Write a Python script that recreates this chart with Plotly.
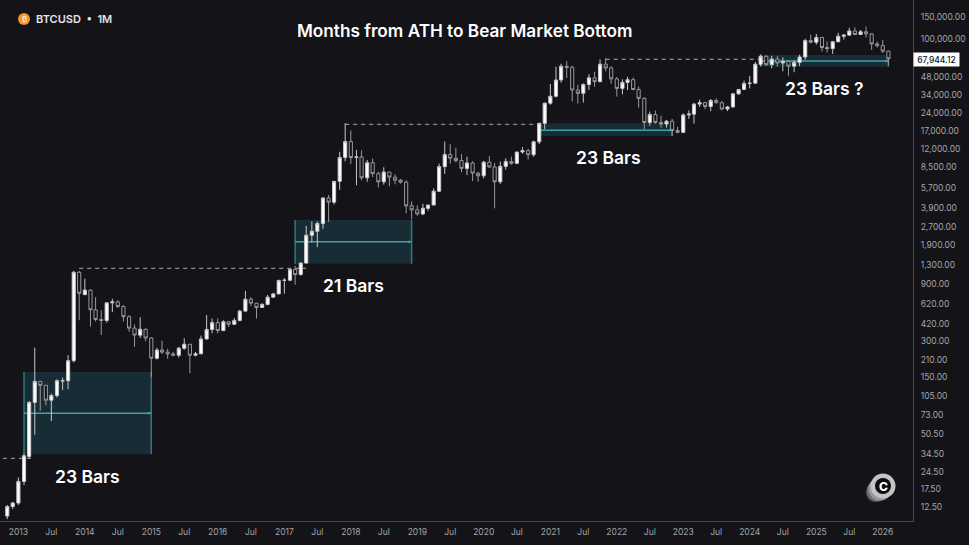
import math

import pandas as pd
import plotly.graph_objects as go

# monthly candles, Nov 2012 to Feb 2026
opens = [10.5, 12.6, 13.5, 20.4, 33, 93, 139, 129, 97, 106, 140, 141, 207, 1130,
         735, 803, 550, 457, 448, 628, 640, 586, 482, 387, 338, 378,
         320, 217, 254, 244, 236, 230, 263, 284, 230, 236, 314, 377,
         430, 369, 437, 416, 448, 536, 673, 624, 575, 609, 701, 746,
         966, 970, 1190, 1080, 1348, 2300, 2480, 2875, 4703, 4339, 6468, 10233,
         13860, 10221, 10326, 6923, 9240, 7494, 6404, 7730, 7011, 6626, 6371, 4041,
         3742, 3457, 3854, 4105, 5350, 8574, 10817, 10085, 9630, 8293, 9199, 7569,
         7193, 9350, 8523, 6410, 8620, 9450, 9137, 11351, 11655, 10779, 13804, 19700,
         28990, 33100, 45240, 58800, 57720, 37300, 35040, 41460, 47100, 43790, 61300, 56950,
         46200, 38480, 43190, 45510, 37640, 31790, 19980, 23300, 20050, 19430, 20490, 17170,
         16540, 23130, 23490, 28470, 29250, 27210, 30470, 29230, 25930, 26970, 34650, 37720,
         42260, 42580, 61180, 71280, 60670, 67530, 62680, 64620, 58970, 63330, 70290, 96400,
         93400, 102400, 84350, 82550, 94200, 104600, 107150, 115760, 108250, 114050, 109600, 90360,
         87500, 78700]
highs = [13, 13.8, 22, 35, 95, 266, 140, 130, 110, 145, 150, 230, 1160, 1163,
         1000, 810, 700, 545, 630, 680, 660, 600, 495, 415, 476, 385,
         325, 265, 304, 260, 245, 270, 318, 285, 245, 335, 497, 465,
         465, 450, 440, 470, 550, 790, 700, 620, 625, 730, 760, 980,
         1010, 1210, 1280, 1360, 2750, 3000, 3000, 4750, 4980, 6500, 11400, 19700,
         17200, 11800, 11700, 9760, 10000, 7780, 8480, 7740, 7400, 6750, 6600, 4400,
         4080, 4200, 4120, 5640, 9100, 13880, 13200, 12330, 10900, 10370, 9500, 7750,
         9580, 10500, 9190, 9460, 10070, 10380, 11430, 12470, 12080, 14100, 19900, 29300,
         41950, 58350, 61780, 64900, 59500, 41300, 42400, 50500, 52900, 67000, 69000, 59050,
         47900, 45800, 48200, 47400, 40000, 32400, 24700, 25200, 22800, 21000, 21450, 18400,
         23800, 25250, 29200, 31000, 29800, 31400, 31800, 30200, 27500, 35000, 38000, 44700,
         49000, 64000, 73800, 72700, 71950, 72000, 70000, 65600, 66500, 73600, 99800, 108300,
         109300, 102700, 95000, 95700, 111900, 108900, 123200, 124500, 117900, 126200, 110600, 94600,
         97900, 79300]
lows = [9.9, 12, 13, 19, 32, 50, 79, 88, 65, 102, 118, 120, 200, 450,
        735, 397, 440, 339, 430, 525, 570, 440, 360, 270, 320, 300,
        152, 212, 235, 215, 225, 220, 255, 163, 225, 236, 310, 350,
        350, 365, 395, 412, 440, 530, 590, 465, 570, 600, 695, 740,
        750, 950, 890, 1060, 1340, 2000, 1830, 2600, 2970, 4150, 5500, 9500,
        9000, 6000, 6600, 6425, 7000, 5750, 6070, 5880, 6100, 6200, 3500, 3120,
        3350, 3380, 3680, 4100, 5300, 7440, 9100, 9320, 7700, 7300, 6500, 6430,
        6850, 8400, 3850, 6150, 8100, 8900, 8970, 11000, 9820, 10370, 13200, 17600,
        28100, 32300, 43000, 47000, 30000, 28800, 29300, 37400, 39600, 43300, 53500, 42000,
        32900, 34300, 37200, 37200, 26600, 17600, 18800, 19500, 18100, 18150, 15480, 16300,
        16500, 21400, 19550, 26900, 25800, 24800, 28860, 25300, 24900, 26550, 34100, 37600,
        38500, 41900, 59000, 59200, 56500, 58400, 53500, 49000, 52500, 58900, 66800, 91200,
        89100, 78200, 76600, 74500, 93300, 98200, 105100, 107300, 107200, 102000, 80500, 84400,
        75700, 60000]
closes = [12.6, 13.5, 20.4, 33.4, 93, 139, 129, 97, 106, 141, 141, 207, 1130, 754,
          803, 550, 457, 448, 628, 640, 586, 482, 387, 338, 378, 320,
          217, 254, 244, 236, 230, 263, 284, 230, 236, 314, 377, 430,
          369, 437, 416, 448, 536, 673, 624, 575, 609, 701, 746, 966,
          970, 1190, 1080, 1348, 2300, 2480, 2875, 4703, 4339, 6468, 10233, 13860,
          10221, 10326, 6923, 9240, 7494, 6404, 7730, 7011, 6626, 6371, 4041, 3742,
          3457, 3854, 4105, 5350, 8574, 10817, 10085, 9630, 8293, 9199, 7569, 7193,
          9350, 8523, 6410, 8620, 9450, 9137, 11351, 11655, 10779, 13804, 19700, 28990,
          33100, 45240, 58800, 57720, 37300, 35040, 41460, 47100, 43790, 61300, 56950, 46200,
          38480, 43190, 45510, 37640, 31790, 19980, 23300, 20050, 19430, 20490, 17170, 16540,
          23130, 23490, 28470, 29250, 27210, 30470, 29230, 25930, 26970, 34650, 37720, 42260,
          42580, 61180, 71280, 60670, 67530, 62680, 64620, 58970, 63330, 70290, 96400, 93400,
          102400, 84350, 82550, 94200, 104600, 107150, 115760, 108250, 114050, 109600, 90360, 87500,
          78700, 67944.12]

y_ticks = [150000, 100000, 48000, 34000, 24000, 17000, 12000, 8500, 5700, 3900, 2700, 1900, 1300,
           900, 620, 420, 300, 210, 150, 105, 73, 50.5, 34.5, 24.5, 17.5, 12.5]
x_tick_vals = ["2013-01-01", "2013-07-01", "2014-01-01", "2014-07-01", "2015-01-01", "2015-07-01",
               "2016-01-01", "2016-07-01", "2017-01-01", "2017-07-01", "2018-01-01", "2018-07-01",
               "2019-01-01", "2019-07-01", "2020-01-01", "2020-07-01", "2021-01-01", "2021-07-01",
               "2022-01-01", "2022-07-01", "2023-01-01", "2023-07-01", "2024-01-01", "2024-07-01",
               "2025-01-01", "2025-07-01", "2026-01-01"]
x_tick_text = ["2013", "Jul", "2014", "Jul", "2015", "Jul", "2016", "Jul", "2017", "Jul", "2018", "Jul",
               "2019", "Jul", "2020", "Jul", "2021", "Jul", "2022", "Jul", "2023", "Jul", "2024", "Jul",
               "2025", "Jul", "2026"]

# ATH to bottom boxes: start, end, top, bottom, middle
box_starts = ["2013-02-01", "2017-03-01", "2020-11-01", "2024-03-01"]
box_ends = ["2015-01-01", "2018-12-01", "2022-11-01", "2026-02-01"]
box_tops = [167, 3080, 19700, 73100]
box_bottoms = [34.4, 1330, 15450, 58300]
box_mids = [75.5, 2030, 17220, 65100]

# dashed ATH lines
ath_starts = ["2012-10-08", "2013-12-01", "2017-12-01", "2021-11-01"]
ath_ends = ["2013-04-01", "2017-05-01", "2020-10-20", "2024-03-01"]
ath_prices = [31.8, 1219, 19320, 67300]

BG = "#131318"
TEAL = "#3fa3a7"
FONT = "Inter"
PLOT_W = 913
PLOT_H = 521


def px_x(x):
    return x / PLOT_W


def px_y(y):
    return 1 - y / PLOT_H


def add_text(fig, x, y, text, size, color="white", weight=600, xanchor="center", **kwargs):
    fig.add_annotation(
        xref="paper", yref="paper", x=px_x(x), y=px_y(y), text=text, showarrow=False,
        xanchor=xanchor, yanchor="middle", borderpad=0,
        font=dict(family=FONT, size=size, color=color, weight=weight), **kwargs,
    )


def add_circle(fig, x, y, r, color):
    fig.add_shape(
        type="circle", xref="paper", yref="paper", layer="above",
        x0=px_x(x - r), x1=px_x(x + r), y0=px_y(y + r), y1=px_y(y - r),
        fillcolor=color, line_width=0,
    )


months = pd.date_range("2012-11-01", periods=len(closes), freq="MS")
fig = go.Figure()

fig.add_trace(go.Candlestick(
    x=months, open=opens, high=highs, low=lows, close=closes, showlegend=False,
    whiskerwidth=0,
    increasing=dict(line=dict(color="#c8c8c8", width=1), fillcolor="#ffffff"),
    decreasing=dict(line=dict(color="#9a9a9a", width=1), fillcolor=BG),
))

for start, end, top, bottom, mid in zip(box_starts, box_ends, box_tops, box_bottoms, box_mids):
    fig.add_shape(type="rect", x0=start, x1=end, y0=bottom, y1=top, layer="below",
                  fillcolor="#182c35", line_width=0)
    for edge in (start, end):
        fig.add_shape(type="line", x0=edge, x1=edge, y0=bottom, y1=top, layer="below",
                      line=dict(color="#2f7a80", width=1.5))
    fig.add_shape(type="line", x0=start, x1=end, y0=mid, y1=mid, layer="below",
                  line=dict(color=TEAL, width=1.5))
    fig.add_annotation(x=end, y=math.log10(mid), ax=-4, ay=0, text="", showarrow=True,
                       arrowhead=2, arrowsize=0.4, arrowwidth=1.5, arrowcolor=TEAL)

for start, end, price in zip(ath_starts, ath_ends, ath_prices):
    fig.add_shape(type="line", x0=start, x1=end, y0=price, y1=price, layer="below",
                  line=dict(color="#b0b0b0", width=1, dash="4px,4px"))

add_text(fig, 464, 30, "Months from ATH to Bear Market Bottom", 17.2)
add_text(fig, 35, 19, "BTCUSD  •  1M", 11, color="#e4e4e4", xanchor="left")
add_text(fig, 87, 476, "23 Bars", 17.5)
add_text(fig, 353, 285, "21 Bars", 17.5)
add_text(fig, 608, 157.5, "23 Bars", 17.5)
add_text(fig, 824.5, 89, "23 Bars ?", 17.5)

add_circle(fig, 24, 19, 6, "#f0952e")
add_text(fig, 24, 19, "₿", 8, color="#ffe4bf")

for x, y, r, color in [(875, 493, 9, "#4a4a4e"), (877, 491, 10.5, "#6e6e72"), (880, 489, 11.5, "#98989b"), (883, 486, 12.5, "#c4c4c4")]:
    add_circle(fig, x, y, r, color)
add_circle(fig, 883, 486, 8, "#0c0c10")
add_text(fig, 883, 486, "C", 12, weight=800)

# last price tag
add_text(fig, 936.5, 60, "67,944.12", 8.5, color="#131318", weight=500, bgcolor="white",
         width=45, height=13, align="center")

fig.update_layout(
    width=969, height=545, paper_bgcolor=BG, plot_bgcolor=BG,
    margin=dict(l=0, r=969 - PLOT_W, t=0, b=545 - PLOT_H, pad=0),
    boxgap=0.12, showlegend=False, font=dict(family=FONT, color="#a6a6a6", size=8.5),
)
fig.update_xaxes(
    type="date", range=["2012-09-22", "2026-06-16"], showgrid=False, zeroline=False,
    rangeslider_visible=False, tickmode="array", tickvals=x_tick_vals, ticktext=x_tick_text,
    showline=True, linecolor="#4a4a50", linewidth=1, ticks="", ticklabelstandoff=3,
    tickangle=0, tickfont=dict(family=FONT, size=8.5, color="#a6a6a6"),
)
fig.update_yaxes(
    type="log", range=[0.980, 5.322], side="right", showgrid=False, zeroline=False,
    tickmode="array", tickvals=y_ticks, ticktext=[f"{v:,.2f}" for v in y_ticks],
    showline=True, linecolor="#4a4a50", linewidth=1, ticks="", ticklabelstandoff=5,
    tickfont=dict(family=FONT, size=8.5, color="#a6a6a6"),
)

# default body margin would shift the figure by 8px
fig.write_html(
    "out.html",
    config={"displayModeBar": False},
    post_script="document.body.style.margin='0';document.body.style.background='#131318';",
)
